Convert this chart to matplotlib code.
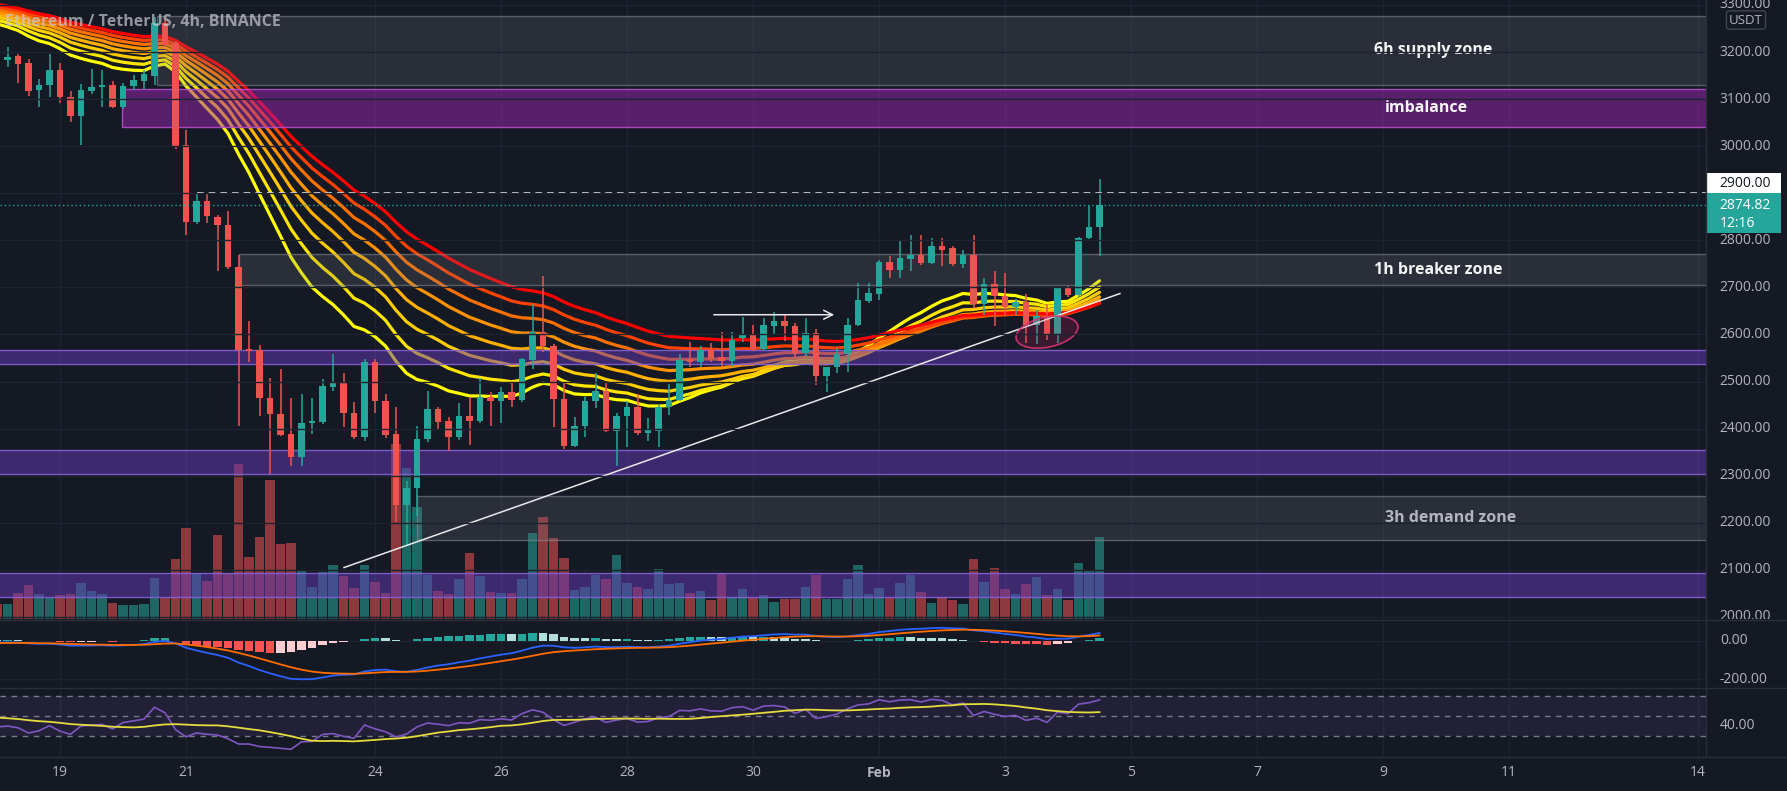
import numpy as np
import matplotlib
matplotlib.use("Agg")
import matplotlib.pyplot as plt
import matplotlib.transforms as mtransforms
from matplotlib.patches import Rectangle, Ellipse
from matplotlib.lines import Line2D

plt.rcParams['font.family'] = ['Open Sans', 'DejaVu Sans']

# ---------------- data (4h candles, ETH/USDT, from 18 Jan 00:00) ----------------
opens = [3211, 3184, 3191, 3177, 3120, 3131, 3162, 3104, 3064, 3118, 3125, 3131, 3084, 3127, 3139, 3150,
         3262, 3219, 3002, 2840, 2883, 2850, 2833, 2744, 2570, 2568, 2465, 2431, 2388, 2339, 2411, 2415,
         2488, 2500, 2434, 2383, 2541, 2458, 2388, 2237, 2273, 2377, 2441, 2417, 2383, 2426, 2417, 2468,
         2458, 2477, 2460, 2545, 2606, 2575, 2464, 2364, 2405, 2458, 2479, 2394, 2426, 2447, 2390, 2396,
         2445, 2460, 2547, 2541, 2568, 2553, 2543, 2592, 2602, 2570, 2619, 2628, 2619, 2560, 2604, 2511,
         2530, 2558, 2621, 2672, 2687, 2753, 2736, 2761, 2768, 2751, 2787, 2783, 2749, 2768, 2664, 2708,
         2681, 2659, 2670, 2621, 2640, 2598, 2698, 2683, 2806, 2829]
highs = [3225, 3211, 3195, 3186, 3143, 3196, 3177, 3118, 3133, 3165, 3162, 3139, 3135, 3152, 3162, 3275,
         3270, 3223, 3035, 2901, 2900, 2854, 2862, 2768, 2628, 2577, 2507, 2526, 2466, 2473, 2466, 2505,
         2558, 2519, 2456, 2549, 2547, 2473, 2447, 2288, 2405, 2481, 2447, 2424, 2454, 2468, 2507, 2477,
         2488, 2498, 2551, 2664, 2725, 2579, 2496, 2424, 2468, 2519, 2498, 2434, 2458, 2473, 2422, 2451,
         2494, 2558, 2585, 2575, 2583, 2606, 2606, 2638, 2621, 2636, 2647, 2643, 2625, 2634, 2611, 2532,
         2572, 2636, 2710, 2710, 2759, 2766, 2800, 2812, 2812, 2806, 2806, 2787, 2780, 2812, 2721, 2734,
         2730, 2676, 2685, 2653, 2664, 2700, 2702, 2808, 2872, 2931]
lows = [3175, 3169, 3135, 3106, 3084, 3104, 3092, 3052, 3002, 3110, 3084, 3082, 3080, 3120, 3122, 3130,
        3210, 2994, 2812, 2834, 2837, 2734, 2740, 2405, 2541, 2426, 2304, 2384, 2320, 2320, 2388, 2409,
        2479, 2404, 2377, 2373, 2434, 2381, 2201, 2150, 2214, 2371, 2400, 2352, 2375, 2366, 2413, 2405,
        2413, 2445, 2456, 2526, 2562, 2403, 2356, 2360, 2383, 2443, 2392, 2320, 2362, 2386, 2373, 2360,
        2428, 2458, 2532, 2532, 2541, 2532, 2532, 2585, 2564, 2564, 2598, 2587, 2553, 2555, 2492, 2477,
        2519, 2521, 2617, 2666, 2674, 2721, 2721, 2734, 2748, 2749, 2745, 2745, 2742, 2657, 2642, 2617,
        2640, 2642, 2583, 2579, 2589, 2581, 2679, 2679, 2802, 2766]
closes = [3184, 3190, 3174, 3118, 3131, 3162, 3104, 3064, 3120, 3125, 3131, 3084, 3128, 3141, 3154, 3262,
          3215, 3001, 2840, 2883, 2852, 2833, 2743, 2568, 2566, 2465, 2431, 2386, 2339, 2413, 2417, 2490,
          2500, 2434, 2383, 2541, 2458, 2386, 2237, 2275, 2379, 2441, 2415, 2383, 2426, 2417, 2468, 2458,
          2477, 2460, 2547, 2606, 2575, 2464, 2364, 2405, 2458, 2479, 2394, 2426, 2447, 2390, 2398, 2445,
          2460, 2545, 2541, 2568, 2547, 2543, 2589, 2602, 2570, 2621, 2628, 2617, 2560, 2604, 2511, 2530,
          2558, 2621, 2674, 2689, 2753, 2736, 2763, 2768, 2751, 2787, 2780, 2749, 2768, 2664, 2708, 2681,
          2659, 2670, 2621, 2640, 2598, 2698, 2683, 2806, 2829, 2874.82]
volumes_k = [15, 15, 26, 34, 25, 21, 24, 25, 36, 28, 25, 16, 14, 14, 15, 41, 21, 60, 91, 45, 38, 84, 45,
             155, 62, 82, 139, 75, 76, 48, 32, 47, 54, 43, 31, 54, 37, 26, 175, 151, 112, 44, 28, 25, 40,
             66, 43, 27, 26, 26, 40, 86, 102, 81, 61, 29, 32, 44, 40, 64, 36, 32, 30, 50, 35, 36, 26, 28,
             19, 46, 22, 30, 21, 24, 17, 20, 20, 32, 44, 20, 20, 40, 54, 25, 31, 21, 36, 44, 27, 16, 22,
             19, 15, 60, 37, 51, 30, 25, 35, 42, 24, 30, 19, 56, 48, 82]

# indicator settings / starting states
ribbon_periods = [20, 25, 30, 35, 40, 45, 50, 55]
ribbon_seeds = [3268, 3275, 3281, 3286, 3291, 3296, 3301, 3306]
ribbon_colors = ['#ffff00', '#ffe600', '#ffcc00', '#ffb000', '#ff9200', '#ff7000', '#ff4200', '#ff0000']
macd_seed = (3188, 3198, -13)     # ema12, ema26, signal
rsi_seed = (12.0, 19.0, 49.0)     # avg gain, avg loss, RSI-MA level

# zones: label, start candle, low, high, kind
zone_labels = ['6h supply zone', 'imbalance', '1h breaker zone', '', '', '3h demand zone', '']
zone_start = [15.2, 11.9, 23.0, 0.0, 0.0, 40.0, 0.0]
zone_low = [3131, 3041, 2706, 2538, 2304, 2163, 2043]
zone_high = [3277, 3122, 2770, 2568, 2354, 2256, 2093]
zone_kind = ['gray', 'magenta', 'gray', 'purple', 'purple', 'gray', 'purple']
zone_text_x = [136.8, 136.1, 137.3, 0, 0, 138.4, 0]

date_pos = [6, 18, 36, 48, 60, 72, 84, 96, 108, 120, 132, 144, 162]
date_lbl = ['19', '21', '24', '26', '28', '30', 'Feb', '3', '5', '7', '9', '11', '14']
price_ticks = [3300, 3200, 3100, 3000, 2800, 2700, 2600, 2500, 2400, 2300, 2200, 2100, 2000]

trend_x = [33.05, 106.95]
trend_y = [2105, 2687]
arrow_x = [68, 80]
arrow_y = 2642
ellipse_center = (100, 2605)
level_2900 = 2900
level_start = 19

assert len(opens) == len(highs) == len(lows) == len(closes) == len(volumes_k) == 106

opens = np.array(opens, float); highs = np.array(highs, float)
lows = np.array(lows, float); closes = np.array(closes, float)
vol = np.array(volumes_k, float)
idx = np.arange(len(closes))

# ---------------- indicators ----------------
def ema(values, period, seed):
    a = 2.0 / (period + 1)
    out, prev = [], seed
    for v in values:
        prev = prev + a * (v - prev)
        out.append(prev)
    return np.array(out)

ribbon = [ema(closes, p, s) for p, s in zip(ribbon_periods, ribbon_seeds)]
macd = ema(closes, 12, macd_seed[0]) - ema(closes, 26, macd_seed[1])
signal = ema(macd, 9, macd_seed[2])
hist = macd - signal
prev_hist = np.r_[(macd_seed[0] - macd_seed[1]) - macd_seed[2], hist[:-1]]
hist_col = []
for h, ph in zip(hist, prev_hist):
    if h >= 0:
        hist_col.append('#26a69a' if h >= ph else '#b2dfdb')
    else:
        hist_col.append('#ff5252' if h < ph else '#ffcdd2')

ag, al, ma0 = rsi_seed
rsi = []
prevc = closes[0]
for c in closes:
    ch = c - prevc
    ag = (ag * 13 + max(ch, 0)) / 14
    al = (al * 13 + max(-ch, 0)) / 14
    rsi.append(100 - 100 / (1 + ag / al))
    prevc = c
rsi = np.array(rsi)
rsi_ma = []
for i in range(len(rsi)):
    lo = max(0, i - 13)
    window = list(rsi[lo:i + 1])
    missing = 14 - len(window)
    rsi_ma.append((sum(window) + missing * ma0) / 14)
rsi_ma = np.array(rsi_ma)

# ---------------- figure ----------------
BG = '#151924'
GRID = '#1f2330'
SEP = '#2a2e39'
TXT = '#b2b5be'
UP = '#26a69a'
DN = '#ef5350'
W, H = 1787, 791
PLOT_R = 1706

fig = plt.figure(figsize=(W / 100, H / 100), dpi=100, facecolor=BG)

def rect(x0, y0, x1, y1):
    return [x0 / W, 1 - y1 / H, (x1 - x0) / W, (y1 - y0) / H]

XL = (0.2857, 162.76)
YL = (1995.7, 3310.5)

axv = fig.add_axes(rect(0, 0, PLOT_R, 619), facecolor=BG)
ax = fig.add_axes(rect(0, 0, PLOT_R, 619), facecolor='none')
axm = fig.add_axes(rect(0, 620, PLOT_R, 687), facecolor=BG)
axr = fig.add_axes(rect(0, 688, PLOT_R, 756), facecolor=BG)
axp = fig.add_axes(rect(PLOT_R, 0, W, 619), facecolor=BG)
axmp = fig.add_axes(rect(PLOT_R, 620, W, 687), facecolor=BG)
axrp = fig.add_axes(rect(PLOT_R, 688, W, 756), facecolor=BG)

for a in (axv, ax, axm, axr, axp, axmp, axrp):
    for s in a.spines.values():
        s.set_visible(False)
    a.set_xticks([]); a.set_yticks([])
for a in (axv, ax, axm, axr):
    a.set_xlim(*XL)

# background grid + volume
axv.set_ylim(0, 619)
for d in date_pos:
    for a in (axv, axm, axr):
        a.axvline(d, color=GRID, lw=1, zorder=0)
axv2 = axv.twinx()
axv2.set_ylim(*YL)
axv2.set_yticks([])
for s in axv2.spines.values():
    s.set_visible(False)
for p in range(2000, 3400, 100):
    axv2.axhline(p, color=GRID, lw=1, zorder=0)
vcol = [UP if c >= o else DN for o, c in zip(opens, closes)]
axv.bar(idx, vol, width=0.86, color=vcol, alpha=0.55, zorder=1)

# main price axes
ax.set_ylim(*YL)
for series, col in zip(ribbon, ribbon_colors):
    ax.plot(idx, series, color=col, lw=2.3, zorder=2, solid_capstyle='round')

zone_style = {
    'gray': dict(fc=(0.47, 0.48, 0.53, 0.22), ec=(0.55, 0.56, 0.6, 0.55)),
    'magenta': dict(fc=(0.61, 0.15, 0.69, 0.5), ec=(0.72, 0.3, 0.8, 0.9)),
    'purple': dict(fc=(0.40, 0.23, 0.72, 0.5), ec=(0.52, 0.38, 0.85, 0.9)),
}
for lbl, x0, lo, hi, kind, tx in zip(zone_labels, zone_start, zone_low, zone_high, zone_kind, zone_text_x):
    st = zone_style[kind]
    ax.add_patch(Rectangle((x0, lo), XL[1] + 5 - x0, hi - lo, facecolor=st['fc'],
                           edgecolor=st['ec'], lw=1.0, zorder=3))
    if lbl:
        col = TXT if lbl.startswith('3h') else '#f4f4f4'
        ax.text(tx, (lo + hi) / 2, lbl, color=col, ha='center', va='center',
                fontsize=11.5, fontweight='bold', zorder=6)

# candles
ccol = [UP if c >= o else DN for o, c in zip(opens, closes)]
ax.vlines(idx, lows, highs, colors=ccol, lw=1.1, zorder=4)
body_lo = np.minimum(opens, closes)
body_h = np.maximum(np.abs(closes - opens), 2.5)
ax.bar(idx, body_h, bottom=body_lo, width=0.64, color=ccol, zorder=5)

# drawings
ax.plot(trend_x, trend_y, color='#e8e8e8', lw=1.1, zorder=6)
ax.annotate('', xy=(arrow_x[1], arrow_y), xytext=(arrow_x[0], arrow_y),
            arrowprops=dict(arrowstyle='->', color='#e8e8e8', lw=1.1, mutation_scale=16), zorder=6)
ell_tr = fig.dpi_scale_trans + mtransforms.ScaledTranslation(ellipse_center[0], ellipse_center[1], ax.transData)
ax.add_patch(Ellipse((0, 0), 0.63, 0.30, angle=12, transform=ell_tr, facecolor=(0.91, 0.12, 0.39, 0.18),
                     edgecolor=(0.85, 0.2, 0.45, 0.9), lw=1.2, zorder=6))
ax.plot([level_start, XL[1]], [level_2900, level_2900], color='white', lw=1.2, ls=(0, (4, 3)), zorder=6)
ax.axhline(closes[-1], color=UP, lw=1, ls=(0, (1, 2)), zorder=6)

ax.text(0.8, 3264, 'Ethereum / TetherUS, 4h, BINANCE', color='#c8cad0', alpha=0.7, fontsize=11.5,
        fontweight='bold', ha='left', va='center', zorder=7)

# price scale
axp.set_ylim(*YL); axp.set_xlim(0, 1)
for p in price_ticks:
    axp.text(0.17, p, f'{p:.2f}', color=TXT, fontsize=10, ha='left', va='center', clip_on=True)
axp.add_patch(Rectangle((0.01, level_2900), 0.91, 42.5, facecolor='white', edgecolor='none', zorder=5))
axp.text(0.17, level_2900 + 21, f'{level_2900:.2f}', color='#131722', fontsize=10, ha='left',
         va='center', zorder=6)
axp.add_patch(Rectangle((0.01, level_2900 - 85), 0.91, 85, facecolor=UP, edgecolor='none', zorder=5))
axp.text(0.17, closes[-1] - 1, f'{closes[-1]:.2f}', color='white', fontsize=10, ha='left', va='center', zorder=6)
axp.text(0.17, closes[-1] - 39, '12:16', color='white', fontsize=10, ha='left', va='center', zorder=6)
fig.text(1746 / W, 1 - 20 / H, 'USDT', color=TXT, fontsize=9.5, ha='center', va='center',
         bbox=dict(boxstyle='round,pad=0.2', fc=BG, ec='#434651', lw=1))

# MACD panel
ML = (-241, 108)
axm.set_ylim(*ML)
for lvl in (0, -200):
    axm.axhline(lvl, color=GRID, lw=1, zorder=0)
axm.bar(idx, hist, width=0.8, color=hist_col, zorder=2)
axm.plot(idx, macd, color='#2962ff', lw=1.3, zorder=3)
axm.plot(idx, signal, color='#ff6d00', lw=1.3, zorder=3)
axmp.set_ylim(*ML); axmp.set_xlim(0, 1)
for lvl in (0, -200):
    axmp.text(0.17, lvl, f'{lvl:.2f}', color=TXT, fontsize=10, ha='left', va='center')

# RSI panel
RL = (9.3, 78.3)
axr.set_ylim(*RL)
axr.axhspan(30, 70, color='#7e57c2', alpha=0.12, lw=0, zorder=1)
for lvl in (70, 50, 30):
    axr.axhline(lvl, color='#787b86', lw=1, ls=(0, (4, 4)), zorder=2)
axr.plot(idx, rsi, color='#7e57c2', lw=1.2, zorder=3)
axr.plot(idx, rsi_ma, color='#e6dc3c', lw=1.3, zorder=3)
axrp.set_ylim(*RL); axrp.set_xlim(0, 1)
axrp.text(0.17, 40, '40.00', color=TXT, fontsize=10, ha='left', va='center')

# date labels
btr = mtransforms.blended_transform_factory(ax.transData, fig.transFigure)
for d, l in zip(date_pos, date_lbl):
    fig.text(d, 1 - 773 / H, l, transform=btr, color=TXT, fontsize=10,
             fontweight='bold' if l == 'Feb' else 'normal', ha='center', va='center')

# separators
for y in (619.5, 687.5, 756.5):
    fig.add_artist(Line2D([0, 1], [1 - y / H, 1 - y / H], transform=fig.transFigure, color=SEP, lw=1))
fig.add_artist(Line2D([PLOT_R / W, PLOT_R / W], [1 - 756.5 / H, 1], transform=fig.transFigure, color=SEP, lw=1))

fig.savefig('out.png', dpi=100, facecolor=BG)
